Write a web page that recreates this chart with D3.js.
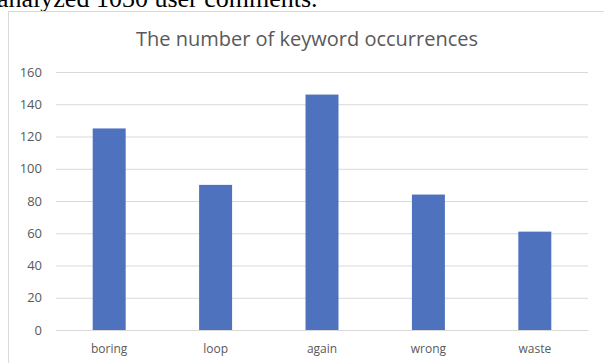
<!DOCTYPE html>
<html>
<head>
<meta charset="utf-8">
<script src="https://cdn.jsdelivr.net/npm/d3@7"></script>
<style>
  body { margin: 0; background: #fff; }
  svg { display: block; }
</style>
</head>
<body>
<svg id="chart" width="604" height="363"></svg>
<script>
  // data
  var categories = ['boring', 'loop', 'again', 'wrong', 'waste'];
  var counts = [125, 90, 146, 84, 61];
  var yTicks = [0, 20, 40, 60, 80, 100, 120, 140, 160];
  var title = 'The number of keyword occurrences';
  var caption = 'analyzed 1030 user comments.';

  var svg = d3.select('#chart');
  var margin = { top: 72, right: 16, bottom: 33, left: 56 };
  var width = 604 - margin.left - margin.right;
  var height = 363 - margin.top - margin.bottom;

  // leftover text from the page above the chart
  svg.append('text')
    .attr('x', -3)
    .attr('y', 7)
    .style('font-family', '"Liberation Serif", "Times New Roman", serif')
    .style('font-size', '26px')
    .style('fill', '#000')
    .text(caption);

  // chart frame (right and bottom fall outside the crop)
  svg.append('rect')
    .attr('x', 8.5)
    .attr('y', 11.5)
    .attr('width', 620)
    .attr('height', 380)
    .attr('fill', 'none')
    .attr('stroke', '#d9d9d9');

  svg.append('text')
    .attr('x', 307)
    .attr('y', 46)
    .style('text-anchor', 'middle')
    .style('font-family', '"Open Sans", sans-serif')
    .style('font-size', '20px')
    .style('fill', '#595959')
    .text(title);

  var g = svg.append('g')
    .attr('transform', 'translate(' + margin.left + ',' + margin.top + ')');

  var x = d3.scaleBand()
    .domain(categories)
    .range([0, width])
    .paddingInner(0.69)
    .paddingOuter(0.345);

  var y = d3.scaleLinear()
    .domain([0, 160])
    .range([height, 0]);

  var yAxis = g.append('g')
    .call(d3.axisLeft(y).tickValues(yTicks).tickSize(-width).tickPadding(14));
  yAxis.select('.domain').remove();
  yAxis.selectAll('.tick line').attr('stroke', '#d9d9d9');
  yAxis.selectAll('.tick text')
    .style('font-family', '"Open Sans", sans-serif')
    .style('font-size', '13px')
    .style('fill', '#595959');

  g.selectAll('.bar')
    .data(counts)
    .enter().append('rect')
    .attr('class', 'bar')
    .attr('x', function (d, i) { return x(categories[i]); })
    .attr('y', function (d) { return y(d); })
    .attr('width', x.bandwidth())
    .attr('height', function (d) { return height - y(d); })
    .attr('fill', '#4e72be');

  var xAxis = g.append('g')
    .attr('transform', 'translate(0,' + height + ')')
    .call(d3.axisBottom(x).tickSize(0).tickPadding(14));
  xAxis.select('.domain').attr('stroke', '#d9d9d9');
  xAxis.selectAll('.tick text')
    .style('font-family', '"Open Sans", sans-serif')
    .style('font-size', '12px')
    .style('fill', '#595959');
</script>
</body>
</html>
